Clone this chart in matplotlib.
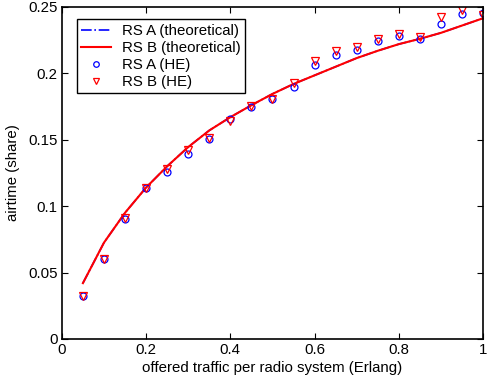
import numpy as np
import matplotlib.pyplot as plt

plt.rcParams['font.family'] = ['Liberation Sans', 'DejaVu Sans']

traffic = [0.05, 0.10, 0.15, 0.20, 0.25, 0.30, 0.35, 0.40, 0.45, 0.50,
           0.55, 0.60, 0.65, 0.70, 0.75, 0.80, 0.85, 0.90, 0.95, 1.00]

theo_a = [0.042, 0.0725, 0.095, 0.114, 0.130, 0.1445, 0.157, 0.167, 0.176, 0.1845,
          0.192, 0.1985, 0.205, 0.2115, 0.217, 0.222, 0.226, 0.2305, 0.236, 0.2415]
theo_b = [0.042, 0.0725, 0.095, 0.114, 0.130, 0.1445, 0.157, 0.167, 0.176, 0.1845,
          0.192, 0.1985, 0.205, 0.2115, 0.217, 0.222, 0.226, 0.2305, 0.236, 0.2415]

he_a = [0.0324, 0.060, 0.0904, 0.114, 0.1255, 0.139, 0.1506, 0.1657, 0.1745, 0.1805,
        0.190, 0.2063, 0.2139, 0.2177, 0.224, 0.228, 0.2259, 0.237, 0.2447, 0.2453]
he_b = [0.0324, 0.060, 0.0910, 0.114, 0.128, 0.142, 0.1510, 0.164, 0.1755, 0.1810,
        0.1925, 0.2096, 0.217, 0.220, 0.2257, 0.2295, 0.2272, 0.2427, 0.2477, 0.244]

fig = plt.figure(figsize=(4.87, 3.86), dpi=100)
ax = fig.add_axes([0.127, 0.122, 0.865, 0.86])

ax.plot(traffic, theo_a, color="blue", linestyle="-.", linewidth=1.2, label="RS A (theoretical)")
ax.plot(traffic, theo_b, color="red", linestyle="-", linewidth=1.5, label="RS B (theoretical)")
ax.plot(traffic, he_a, linestyle="none", marker="o", markersize=5, markerfacecolor="none",
        markeredgecolor="blue", markeredgewidth=0.9, label="RS A (HE)")
ax.plot(traffic, he_b, linestyle="none", marker="v", markersize=5.5, markerfacecolor="none",
        markeredgecolor="red", markeredgewidth=0.9, label="RS B (HE)")

ax.set_xlim(0, 1)
ax.set_ylim(0, 0.25)
ax.set_xticks([0, 0.2, 0.4, 0.6, 0.8, 1])
ax.set_xticklabels(["0", "0.2", "0.4", "0.6", "0.8", "1"])
ax.set_yticks([0, 0.05, 0.1, 0.15, 0.2, 0.25])
ax.set_yticklabels(["0", "0.05", "0.1", "0.15", "0.2", "0.25"])
ax.tick_params(direction="in", top=True, right=True, length=4, labelsize=10.8, width=0.8, pad=3)
for s in ax.spines.values():
    s.set_linewidth(1.2)

ax.set_xlabel("offered traffic per radio system (Erlang)", fontsize=10.8, labelpad=3)
ax.set_ylabel("airtime (share)", fontsize=10.8, labelpad=6)

leg = ax.legend(loc="upper left", fontsize=10.8, fancybox=False, framealpha=1,
                edgecolor="black", borderpad=0.3, labelspacing=0.2, handlelength=2.0,
                handletextpad=0.7, markerscale=0.8, bbox_to_anchor=(0.017, 0.985))
leg.get_frame().set_linewidth(1.0)

plt.savefig("out.png", dpi=100)
